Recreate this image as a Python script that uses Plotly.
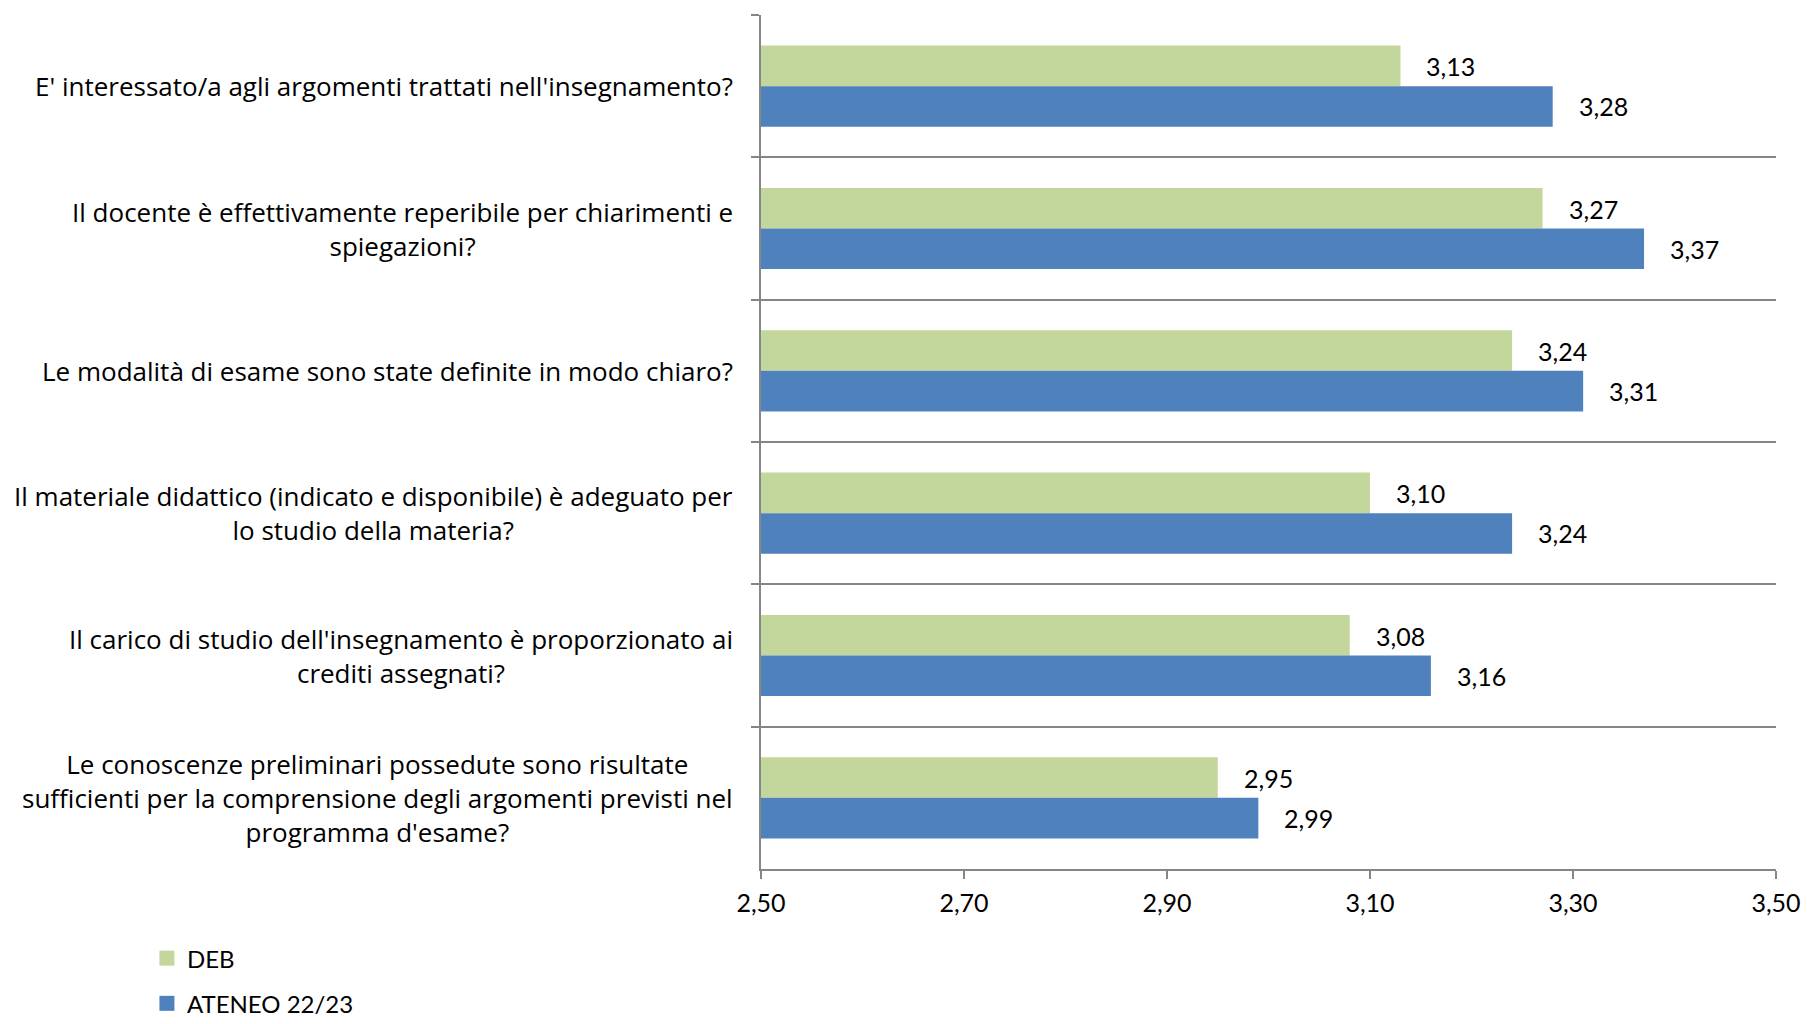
import plotly.graph_objects as go

categories = [
    "E' interessato/a agli argomenti trattati nell'insegnamento?",
    "Il docente è effettivamente reperibile per chiarimenti e<br>spiegazioni?",
    "Le modalità di esame sono state definite in modo chiaro?",
    "Il materiale didattico (indicato e disponibile) è adeguato per<br>lo studio della materia?",
    "Il carico di studio dell'insegnamento è proporzionato ai<br>crediti assegnati?",
    "Le conoscenze preliminari possedute sono risultate<br>sufficienti per la comprensione degli argomenti previsti nel<br>programma d'esame?",
]
deb = [3.13, 3.27, 3.24, 3.10, 3.08, 2.95]
ateneo = [3.28, 3.37, 3.31, 3.24, 3.16, 2.99]
series_names = ["DEB", "ATENEO 22/23"]
x_ticks = [2.5, 2.7, 2.9, 3.1, 3.3, 3.5]
x_tick_labels = ["2,50", "2,70", "2,90", "3,10", "3,30", "3,50"]

GREEN = "#C3D69B"
BLUE = "#4F81BD"
GRID = "#868686"
FONT = "Lato"
CAT_FONT = "Open Sans"

fig = go.Figure()
fig.add_trace(go.Bar(y=categories, x=deb, orientation="h", name=series_names[0],
                     marker=dict(color=GREEN, line=dict(width=0)), showlegend=False))
fig.add_trace(go.Bar(y=categories, x=ateneo, orientation="h", name=series_names[1],
                     marker=dict(color=BLUE, line=dict(width=0)), showlegend=False))
# legend entries (square markers like the original)
for name, col, grp in zip(series_names, [GREEN, BLUE], ["a", "b"]):
    fig.add_trace(go.Scatter(x=[None], y=[None], mode="markers", name=name,
                             legendgroup=grp,
                             marker=dict(symbol="square", size=15, color=col)))

fmt = lambda v: f"{v:.2f}".replace(".", ",")
annotations = []
for c, v in zip(categories, deb):
    annotations.append(dict(x=v, y=c, xref="x", yref="y", text=fmt(v), showarrow=False,
                            xanchor="left", xshift=24, yshift=20,
                            font=dict(family=FONT, size=25, color="#000")))
for c, v in zip(categories, ateneo):
    annotations.append(dict(x=v, y=c, xref="x", yref="y", text=fmt(v), showarrow=False,
                            xanchor="left", xshift=24, yshift=-20,
                            font=dict(family=FONT, size=25, color="#000")))
for c in categories:
    annotations.append(dict(x=0, y=c, xref="paper", yref="y", text=c, showarrow=False,
                            xanchor="right", xshift=-26, align="center",
                            font=dict(family=CAT_FONT, size=26, color="#000")))

fig.update_layout(
    width=1807, height=1024,
    paper_bgcolor="white", plot_bgcolor="white",
    margin=dict(l=761, r=31, t=15, b=155, pad=0, autoexpand=False),
    barmode="group", bargap=0.43, bargroupgap=0,
    annotations=annotations,
    showlegend=True,
    legend=dict(x=-0.605, y=-0.0785, xanchor="left", yanchor="top",
                orientation="v", traceorder="grouped", tracegroupgap=11,
                itemwidth=30,
                font=dict(family=FONT, size=24, color="#000"),
                bgcolor="rgba(0,0,0,0)"),
    font=dict(family=FONT, size=25, color="#000"),
    xaxis2=dict(overlaying="x", matches="x", anchor="y", side="bottom",
                range=[2.5, 3.5], tickvals=x_ticks, showticklabels=False,
                ticks="inside", ticklen=8, tickwidth=2, tickcolor=GRID,
                showgrid=False, zeroline=False, showline=False),
)
fig.layout.xaxis.update(range=[2.5, 3.5], tickvals=x_ticks, ticktext=x_tick_labels,
                        showline=True, linecolor=GRID, linewidth=2,
                        ticks="outside", ticklen=8, tickwidth=2, tickcolor=GRID,
                        ticklabelstandoff=3, ticklabeloverflow="allow",
                        showgrid=False, zeroline=False,
                        tickfont=dict(family=FONT, size=25, color="#000"))
fig.update_yaxes(autorange="reversed", type="category", tickson="boundaries",
                 showgrid=True, gridcolor=GRID, gridwidth=2,
                 showline=True, linecolor=GRID, linewidth=2,
                 ticks="outside", ticklen=8, tickwidth=2, tickcolor=GRID,
                 showticklabels=False, zeroline=False)

# remove the browser's default 8px body margin so the figure fills the window exactly
fig.write_html("out.html",
               config={"displayModeBar": False},
               post_script="document.body.style.margin='0';document.body.style.overflow='hidden';")
